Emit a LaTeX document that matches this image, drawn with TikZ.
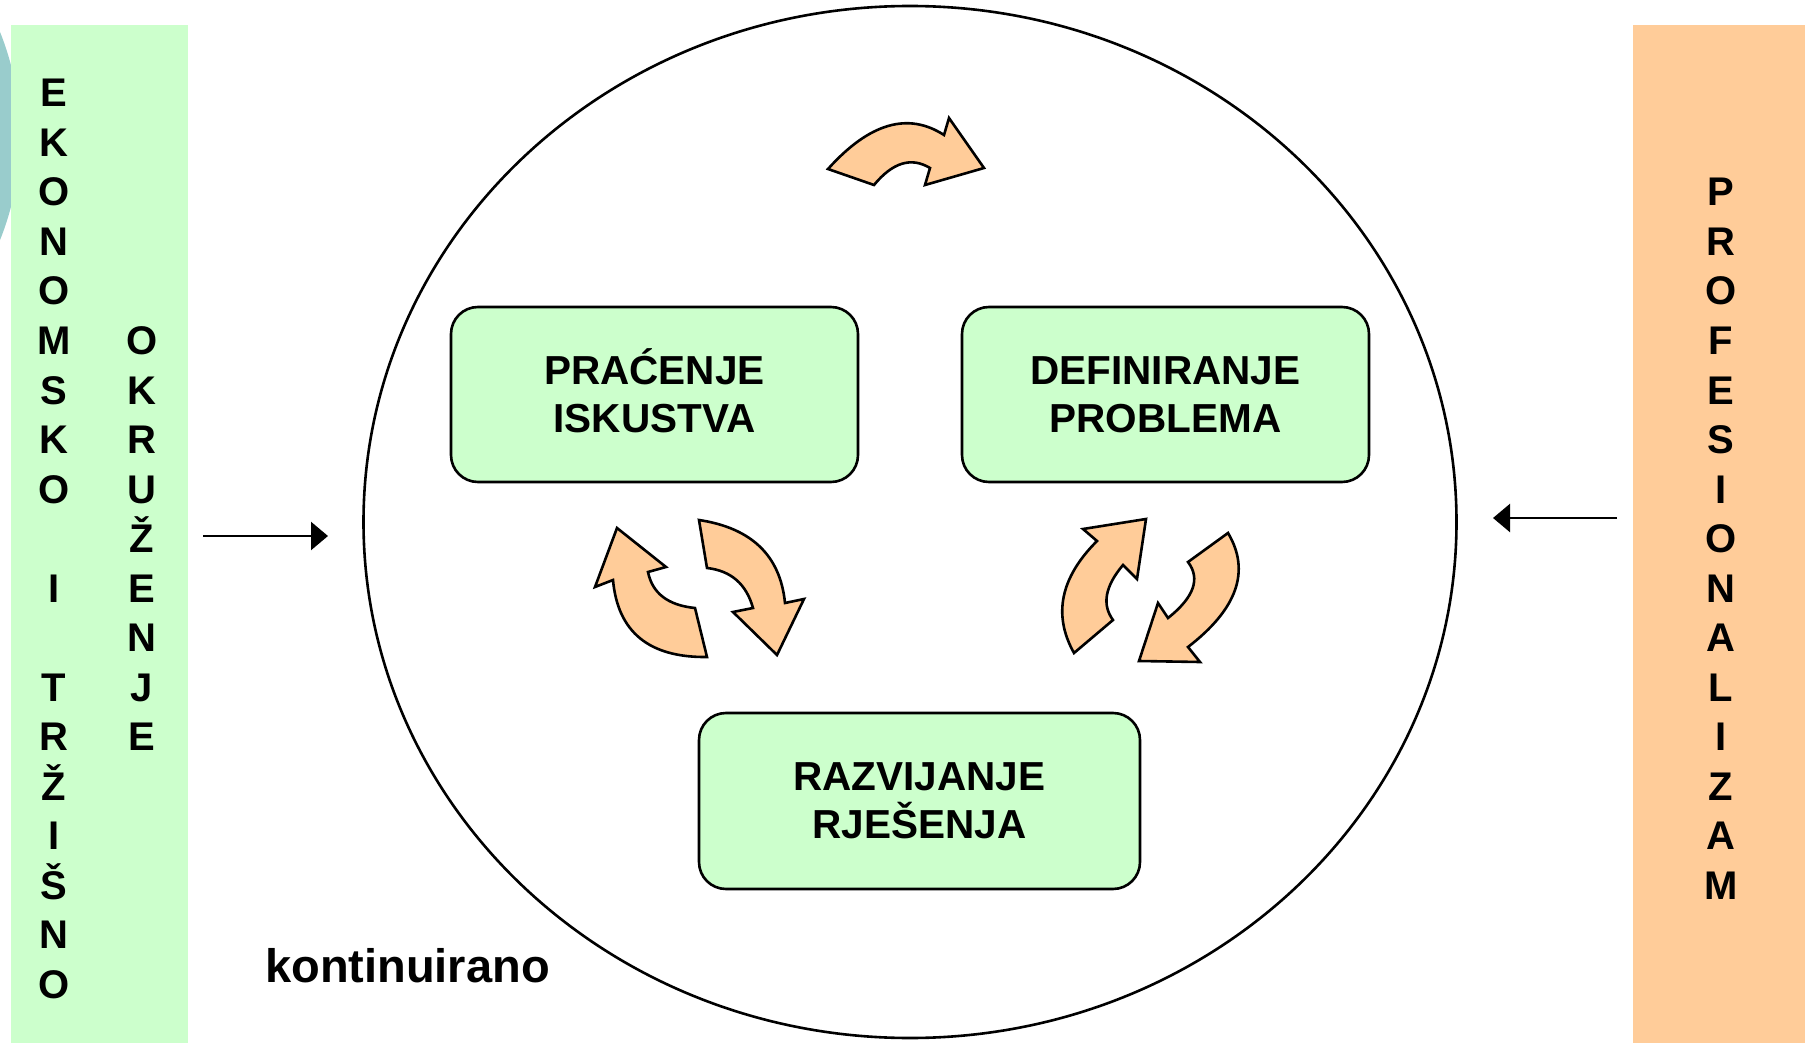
\documentclass[tikz,border=0pt]{standalone}
\usepackage{fontspec}
\setmainfont{Liberation Sans}
\usetikzlibrary{arrows.meta,shapes.geometric}
\definecolor{mint}{HTML}{CCFFCC}
\definecolor{peach}{HTML}{FFCC99}
\definecolor{sea}{HTML}{99CCCC}

\begin{document}
\begin{tikzpicture}[x=1pt,y=-1pt,
  stage/.style={draw=black, line width=2.6pt, fill=mint, rounded corners=27pt,
    minimum width=407pt, minimum height=175pt, align=center, inner sep=0pt,
    font=\fontsize{40.5}{48}\selectfont\bfseries},
  letter/.style={anchor=base, inner sep=0pt, font=\fontsize{40}{48}\selectfont\bfseries},
  turn/.style={draw=black, line width=2.6pt, fill=peach, line join=miter},
  feed/.style={line width=2.4pt, -{Triangle[length=17pt,width=28pt]}},
  band/.style={anchor=north west, inner sep=0pt, outer sep=0pt, minimum height=1018pt}]

\useasboundingbox (0,0) rectangle (1805,1043);
\clip (0,0) rectangle (1805,1043);

% decorative disc peeking in at the left edge
\fill[sea] (-260,136) circle[radius=280];

% side bands
\node[band, fill=mint, minimum width=177pt] (envL) at (11,25) {};
\node[band, fill=peach, minimum width=172pt] (envR) at (1633,25) {};

% vertical captions
\foreach \r/\ch in {0/E,1/K,2/O,3/N,4/O,5/M,6/S,7/K,8/O,10/I,12/T,13/R,14/Ž,15/I,16/Š,17/N,18/O}
  \node[letter] (ekoA\r) at (54,107+49.5*\r) {\ch};
\foreach \r/\ch in {5/O,6/K,7/R,8/U,9/Ž,10/E,11/N,12/J,13/E}
  \node[letter] (ekoB\r) at (141.6,107+49.5*\r) {\ch};
\foreach \r/\ch in {2/P,3/R,4/O,5/F,6/E,7/S,8/I,9/O,10/N,11/A,12/L,13/I,14/Z,15/A,16/M}
  \node[letter] (prof\r) at (1721,107+49.5*\r) {\ch};

% the cycle
\node[ellipse, draw=black, line width=2.6pt, minimum width=1093pt, minimum height=1032pt, inner sep=0pt] (ring) at (910,522) {};

\node[stage] (prac) at (654.5,394.5) {PRA\smash{Ć}ENJE\\ISKUSTVA};
\node[stage] (defi) at (1165.5,394.5) {DEFINIRANJE\\PROBLEMA};
\node[stage, minimum width=441pt, minimum height=176pt] (razv) at (919.5,801) {RAZVIJANJE\\RJEŠENJA};

% curved block arrows
\draw[turn] (828,169) -- (874,185) .. controls (892.7,162.3) and (911.3,156.7) .. (930,168)
  -- (925,185) -- (984,168) -- (949,118) -- (944,135)
  .. controls (908,111.7) and (869.3,123) .. (828,169) -- cycle;
\draw[turn] (707,657) -- (695,608) .. controls (668,605.3) and (652.3,593.3) .. (648,572)
  -- (666,567) -- (617,528) -- (595,587) -- (613,580)
  .. controls (617.7,632) and (649,657.7) .. (707,657) -- cycle;
\draw[turn] (699,520) -- (707,568) .. controls (731,570.7) and (746.3,584) .. (753,608)
  -- (733,612) -- (777,655) -- (804,599) -- (785,603)
  .. controls (780.3,555.7) and (751.7,528) .. (699,520) -- cycle;
\draw[turn] (1074,653) -- (1113,620) .. controls (1101.7,604.7) and (1105,586.3) .. (1123,565)
  -- (1137,579) -- (1146,519) -- (1083,529) -- (1097,541)
  .. controls (1060.3,577.7) and (1052.7,615) .. (1074,653) -- cycle;
\draw[turn] (1228,533) -- (1188,562) .. controls (1200.7,578.7) and (1194,597.3) .. (1168,618)
  -- (1158,603) -- (1139,661) -- (1200,662) -- (1188,647)
  .. controls (1237.3,609) and (1250.7,571) .. (1228,533) -- cycle;

% influences from outside
\coordinate (inL) at (203,536);
\coordinate (inLend) at (328,536);
\draw[feed] (inL) -- (inLend);
\coordinate (inR) at (1617,518);
\coordinate (inRend) at (1493,518);
\draw[feed] (inR) -- (inRend);

\node[anchor=base west, inner sep=0pt, font=\fontsize{47}{50}\selectfont\bfseries] (cont) at (265,982) {kontinuirano};
\end{tikzpicture}
\end{document}
